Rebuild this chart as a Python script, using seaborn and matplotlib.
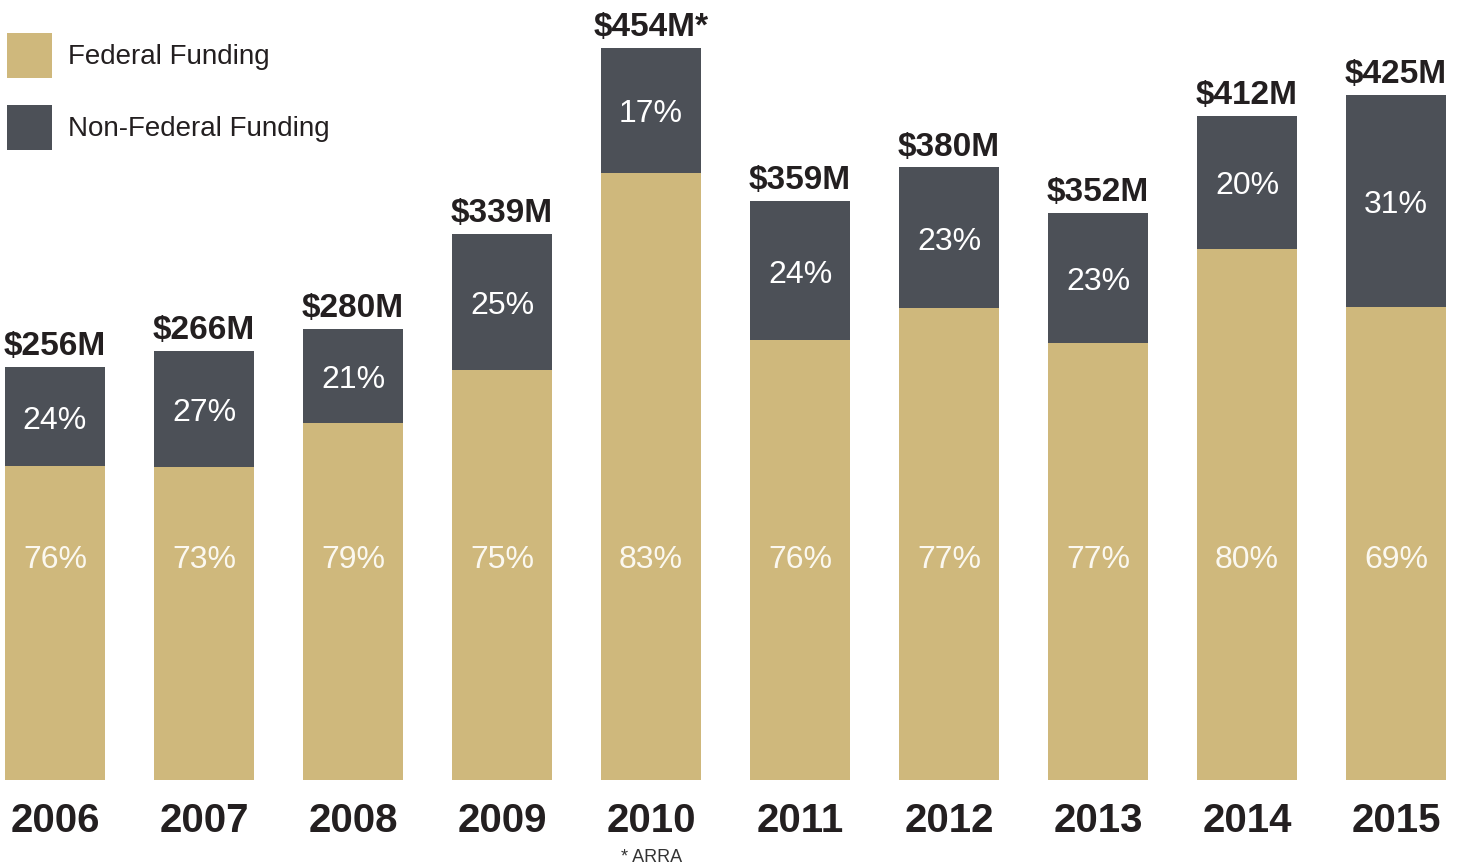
import matplotlib
matplotlib.use("Agg")
import matplotlib.pyplot as plt
import seaborn as sns
import pandas as pd
from matplotlib import font_manager
from matplotlib.patches import Rectangle

years = ["2006", "2007", "2008", "2009", "2010", "2011", "2012", "2013", "2014", "2015"]
totals = [256, 266, 280, 339, 454, 359, 380, 352, 412, 425]
federal_pct = [76, 73, 79, 75, 83, 76, 77, 77, 80, 69]
nonfederal_pct = [24, 27, 21, 25, 17, 24, 23, 23, 20, 31]
total_labels = ["$256M", "$266M", "$280M", "$339M", "$454M*", "$359M", "$380M", "$352M", "$412M", "$425M"]

GOLD = "#CFB87C"
GRAY = "#4C5057"

names = {f.name for f in font_manager.fontManager.ttflist}
narrow = "Liberation Sans Narrow" if "Liberation Sans Narrow" in names else "Liberation Sans"

sns.set_theme(style="white")
plt.rcParams["font.family"] = [narrow, "DejaVu Sans"]

df = pd.DataFrame({"year": years, "total": totals, "fed": federal_pct, "nonfed": nonfederal_pct})
df["fed_val"] = df["total"] * df["fed"] / (df["fed"] + df["nonfed"])

fig = plt.figure(figsize=(14.61, 8.67), dpi=100)
ax = fig.add_axes([5 / 1461, 87 / 867, 1441 / 1461, 780 / 867])

sns.barplot(data=df, x="year", y="total", color=GRAY, width=0.67, ax=ax, saturation=1, edgecolor="none")
sns.barplot(data=df, x="year", y="fed_val", color=GOLD, width=0.67, ax=ax, saturation=1, edgecolor="none")

ax.set_xlim(-0.335, 9.335)
ax.set_ylim(0, 780 / 1.612)
for s in ax.spines.values():
    s.set_visible(False)
ax.set_xlabel("")
ax.set_ylabel("")
ax.set_yticks([])
ax.set_xticks(range(len(years)))
ax.set_xticklabels(years, fontsize=29, fontweight="bold", color="#231F20")
ax.tick_params(axis="x", length=0, pad=16)

for i, row in df.iterrows():
    ax.text(i, row["total"] + 3, total_labels[i], ha="center", va="bottom", fontsize=24,
            fontweight="bold", color="#231F20")
    ax.text(i, (row["total"] + row["fed_val"]) / 2 - 2.5, f"{row['nonfed']}%", ha="center", va="center",
            fontsize=23, color="white")
    ax.text(i, 136.5, f"{row['fed']}%", ha="center", va="center", fontsize=23, color="#FBF8F0")

fig.text(652 / 1461, 1 - 857 / 867, "* ARRA", ha="center", va="center", fontsize=13, color="#333333")

# legend
fig.patches.append(Rectangle((7 / 1461, 1 - 78 / 867), 45 / 1461, 45 / 867, transform=fig.transFigure,
                             facecolor=GOLD, edgecolor="none"))
fig.patches.append(Rectangle((7 / 1461, 1 - 150 / 867), 45 / 1461, 45 / 867, transform=fig.transFigure,
                             facecolor=GRAY, edgecolor="none"))
fig.text(68 / 1461, 1 - 57 / 867, "Federal Funding", ha="left", va="center", fontsize=20,
         color="#231F20", family=["Liberation Sans", "DejaVu Sans"])
fig.text(68 / 1461, 1 - 129 / 867, "Non-Federal Funding", ha="left", va="center", fontsize=20,
         color="#231F20", family=["Liberation Sans", "DejaVu Sans"])

fig.savefig("out.png", dpi=100)
